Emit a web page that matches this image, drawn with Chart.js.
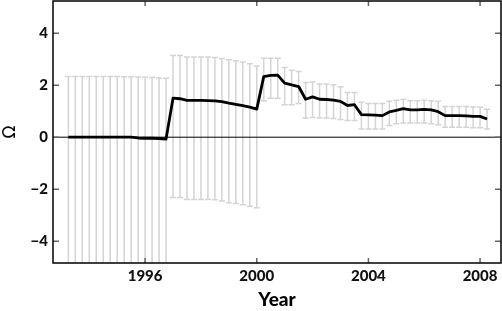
<!DOCTYPE html>
<html>
<head>
<meta charset="utf-8">
<script src="https://cdn.jsdelivr.net/npm/chart.js@4.4.0/dist/chart.umd.min.js"></script>
<style>
    html, body { margin: 0; padding: 0; background: #fff; }
</style>
</head>
<body>
<canvas id="omega-chart" width="502" height="311"></canvas>
<script>
// quarterly observations
const years = [
    1993.25, 1993.5, 1993.75, 1994.0, 1994.25, 1994.5, 1994.75, 1995.0, 1995.25, 1995.5,
    1995.75, 1996.0, 1996.25, 1996.5, 1996.75,
    1997.0, 1997.25, 1997.5, 1997.75, 1998.0, 1998.25, 1998.5, 1998.75, 1999.0, 1999.25,
    1999.5, 1999.75, 2000.0,
    2000.25, 2000.5, 2000.75, 2001.0, 2001.25, 2001.5, 2001.75, 2002.0, 2002.25, 2002.5,
    2002.75, 2003.0, 2003.25, 2003.5, 2003.75, 2004.0, 2004.25, 2004.5, 2004.75, 2005.0,
    2005.25, 2005.5, 2005.75, 2006.0, 2006.25, 2006.5, 2006.75, 2007.0, 2007.25, 2007.5,
    2007.75, 2008.0, 2008.25
];

const omega = [
    0, 0, 0, 0, 0, 0, 0, 0, 0, 0,
    -0.03, -0.04, -0.04, -0.05, -0.07,
    1.50, 1.48, 1.42, 1.42, 1.42, 1.41, 1.40, 1.37, 1.31, 1.26,
    1.21, 1.16, 1.08,
    2.33, 2.38, 2.39, 2.08, 2.01, 1.95, 1.46, 1.55, 1.46, 1.45,
    1.43, 1.38, 1.22, 1.25, 0.87, 0.86, 0.85, 0.83, 0.97, 1.03,
    1.10, 1.05, 1.05, 1.07, 1.05, 0.98, 0.83, 0.83, 0.83, 0.82,
    0.80, 0.80, 0.70
];

// error bar ends
const upper = [
    2.34, 2.34, 2.34, 2.34, 2.34, 2.34, 2.34, 2.34, 2.33, 2.33,
    2.32, 2.31, 2.30, 2.28, 2.27,
    3.14, 3.14, 3.09, 3.09, 3.09, 3.09, 3.07, 3.03, 2.98, 2.94,
    2.89, 2.83, 2.74,
    3.04, 3.04, 3.04, 2.68, 2.58, 2.53, 2.10, 2.12, 2.05, 2.05,
    2.02, 1.94, 1.72, 1.72, 1.34, 1.30, 1.30, 1.30, 1.38, 1.42,
    1.45, 1.40, 1.40, 1.42, 1.40, 1.38, 1.18, 1.18, 1.18, 1.18,
    1.16, 1.15, 1.08
];

const lower = [
    -6, -6, -6, -6, -6, -6, -6, -6, -6, -6,
    -6, -6, -6, -6, -6,
    -2.32, -2.32, -2.40, -2.40, -2.40, -2.40, -2.41, -2.45, -2.52, -2.55,
    -2.60, -2.66, -2.71,
    1.40, 1.50, 1.50, 1.25, 1.25, 1.30, 0.74, 0.76, 0.74, 0.74,
    0.72, 0.68, 0.64, 0.64, 0.32, 0.32, 0.32, 0.32, 0.45, 0.52,
    0.55, 0.55, 0.55, 0.55, 0.52, 0.48, 0.38, 0.38, 0.38, 0.38,
    0.36, 0.36, 0.32
];

const xTicks = [1996, 2000, 2004, 2008];
const yTicks = [-4, -2, 0, 2, 4];

const tickFont = { family: 'Lato', size: 15, weight: '900' };

// error bars, zero line, frame and inward ticks
const extras = {
    id: 'extras',
    beforeDatasetsDraw(chart) {
        const { ctx, chartArea: a, scales: { x, y } } = chart;
        ctx.save();
        ctx.beginPath();
        ctx.rect(a.left, a.top, a.right - a.left, a.bottom - a.top);
        ctx.clip();

        ctx.strokeStyle = '#d4d4d4';
        ctx.lineWidth = 1.5;
        years.forEach((yr, i) => {
            const px = x.getPixelForValue(yr);
            const top = y.getPixelForValue(upper[i]);
            const bot = y.getPixelForValue(lower[i]);
            ctx.beginPath();
            ctx.moveTo(px, top);
            ctx.lineTo(px, bot);
            ctx.moveTo(px - 3, top);
            ctx.lineTo(px + 3, top);
            ctx.moveTo(px - 3, bot);
            ctx.lineTo(px + 3, bot);
            ctx.stroke();
        });

        const y0 = y.getPixelForValue(0);
        ctx.strokeStyle = '#000';
        ctx.lineWidth = 1;
        ctx.beginPath();
        ctx.moveTo(a.left, y0);
        ctx.lineTo(a.right, y0);
        ctx.stroke();
        ctx.restore();
    },
    afterDraw(chart) {
        const { ctx, chartArea: a, scales: { x, y } } = chart;
        ctx.save();
        ctx.strokeStyle = '#666';
        ctx.lineWidth = 1.5;
        ctx.beginPath();
        yTicks.forEach(v => {
            const py = y.getPixelForValue(v);
            ctx.moveTo(a.left, py);
            ctx.lineTo(a.left + 6, py);
            ctx.moveTo(a.right, py);
            ctx.lineTo(a.right - 6, py);
        });
        xTicks.forEach(v => {
            const px = x.getPixelForValue(v);
            ctx.moveTo(px, a.bottom);
            ctx.lineTo(px, a.bottom - 5);
            ctx.moveTo(px, a.top);
            ctx.lineTo(px, a.top + 5);
        });
        ctx.stroke();

        ctx.strokeStyle = '#000';
        ctx.lineWidth = 1.5;
        ctx.strokeRect(a.left, a.top, a.right - a.left, a.bottom - a.top);
        ctx.restore();
    }
};

const ctx = document.getElementById('omega-chart').getContext('2d');

new Chart(ctx, {
    type: 'line',
    data: {
        datasets: [{
            data: years.map((yr, i) => ({ x: yr, y: omega[i] })),
            borderColor: '#000',
            borderWidth: 2.8,
            borderJoinStyle: 'round',
            pointRadius: 0,
            tension: 0,
            fill: false
        }]
    },
    options: {
        responsive: false,
        animation: false,
        layout: { padding: { top: 1, right: 1, left: 0, bottom: 0 } },
        plugins: {
            legend: { display: false },
            tooltip: { enabled: false }
        },
        scales: {
            x: {
                type: 'linear',
                min: 1992.7,
                max: 2008.75,
                afterBuildTicks: s => { s.ticks = xTicks.map(v => ({ value: v })); },
                afterFit: s => {
                    s.height = 48;
                    s.paddingLeft = 0;
                    s.paddingRight = 0;
                },
                grid: { display: false, drawTicks: false },
                border: { display: false },
                ticks: {
                    font: tickFont,
                    color: '#111',
                    padding: 4,
                    maxRotation: 0,
                    autoSkip: false,
                    callback: v => String(v)
                },
                title: {
                    display: true,
                    text: 'Year',
                    color: '#000',
                    font: { family: 'Lato', size: 19, weight: '900' },
                    padding: 0
                }
            },
            y: {
                type: 'linear',
                min: -4.84,
                max: 5.24,
                afterBuildTicks: s => { s.ticks = yTicks.map(v => ({ value: v })); },
                afterFit: s => {
                    s.width = 53;
                    s.paddingTop = 0;
                    s.paddingBottom = 0;
                },
                grid: { display: false, drawTicks: false },
                border: { display: false },
                ticks: {
                    font: tickFont,
                    color: '#111',
                    padding: 5,
                    callback: v => v < 0 ? '\u2212' + Math.abs(v) : String(v)
                },
                title: {
                    display: true,
                    text: 'Ω',
                    color: '#000',
                    font: { family: 'DejaVu Sans', size: 17 },
                    padding: 0
                }
            }
        }
    },
    plugins: [extras]
});
</script>
</body>
</html>
